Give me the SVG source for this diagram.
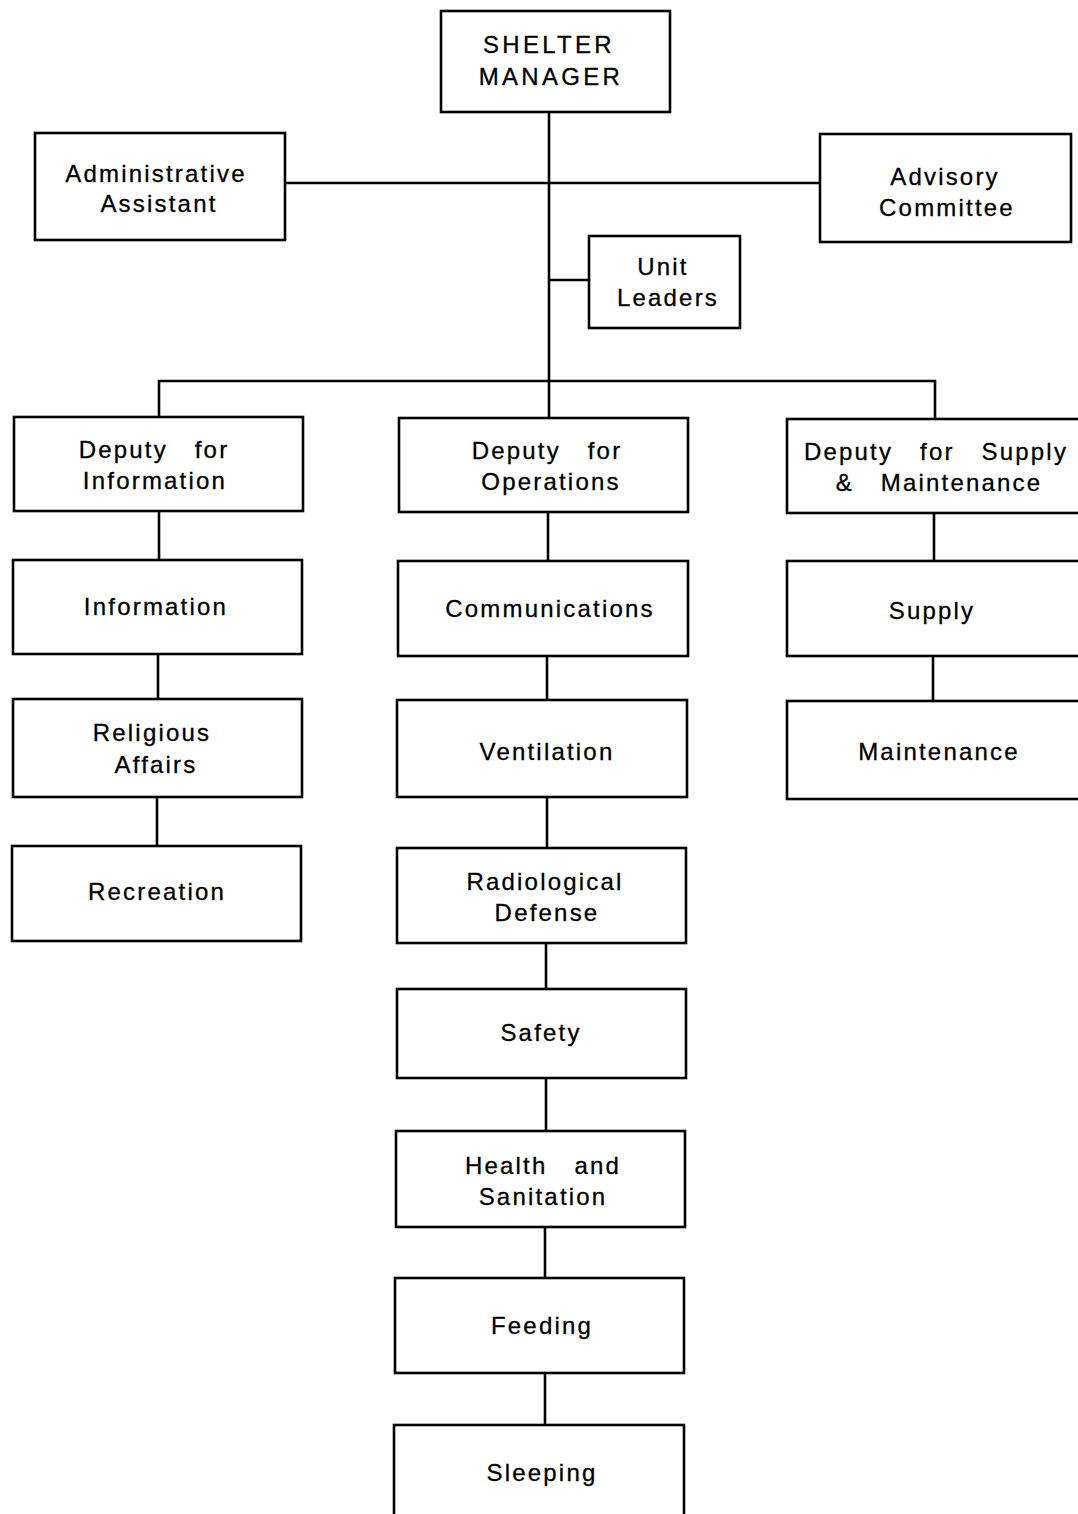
<svg xmlns="http://www.w3.org/2000/svg" width="1078" height="1514" viewBox="0 0 1078 1514">
<style>
.box{fill:#fff;stroke:#000;stroke-width:2.6}
.ln{fill:none;stroke:#000;stroke-width:2.6}
text{font-family:"Liberation Sans",Arial,sans-serif;font-size:24px;letter-spacing:2.2px;text-anchor:middle;fill:#000;stroke:#000;stroke-width:0.3}
.caps{letter-spacing:3.3px}
.ws{word-spacing:18px}
</style>
<rect width="1078" height="1514" fill="#fff"/>
<g id="connectors">
<path class="ln" d="M549 112V417"/>
<path class="ln" d="M285 183H820"/>
<path class="ln" d="M549 280H589"/>
<path class="ln" d="M159 417V381H935V419"/>
<path class="ln" d="M159 511V560M158 654V699M157 797V846"/>
<path class="ln" d="M548 512V561M547 656V700M547 797V848M546 943V989M546 1078V1131M545 1227V1278M545 1373V1425"/>
<path class="ln" d="M934 513V561M933 656V701"/>
</g>
<g id="shelter-manager"><rect class="box" x="441" y="11" width="229" height="101"/><text class="caps" x="549" y="53">SHELTER</text><text class="caps" x="551" y="85">MANAGER</text></g>
<g id="administrative-assistant"><rect class="box" x="35" y="133" width="250" height="107"/><text x="156" y="182">Administrative</text><text x="159" y="212">Assistant</text></g>
<g id="advisory-committee"><rect class="box" x="820" y="134" width="251" height="108"/><text x="945" y="185">Advisory</text><text x="947" y="216">Committee</text></g>
<g id="unit-leaders"><rect class="box" x="589" y="236" width="151" height="92"/><text x="663" y="275">Unit</text><text x="668" y="306">Leaders</text></g>
<g id="deputy-information"><rect class="box" x="14" y="417" width="289" height="94"/><text class="ws" x="154" y="458">Deputy for</text><text x="155" y="489">Information</text></g>
<g id="deputy-operations"><rect class="box" x="399" y="418" width="289" height="94"/><text class="ws" x="547" y="459">Deputy for</text><text x="551" y="490">Operations</text></g>
<g id="deputy-supply"><rect class="box" x="787" y="419" width="300" height="94"/><text class="ws" x="936" y="460">Deputy for Supply</text><text class="ws" x="939" y="491">&amp; Maintenance</text></g>
<g id="information"><rect class="box" x="13" y="560" width="289" height="94"/><text x="156" y="615">Information</text></g>
<g id="religious-affairs"><rect class="box" x="13" y="699" width="289" height="98"/><text x="152" y="741">Religious</text><text x="156" y="773">Affairs</text></g>
<g id="recreation"><rect class="box" x="12" y="846" width="289" height="95"/><text x="157" y="900">Recreation</text></g>
<g id="communications"><rect class="box" x="398" y="561" width="290" height="95"/><text x="550" y="617">Communications</text></g>
<g id="ventilation"><rect class="box" x="397" y="700" width="290" height="97"/><text x="547" y="760">Ventilation</text></g>
<g id="radiological-defense"><rect class="box" x="397" y="848" width="289" height="95"/><text x="545" y="890">Radiological</text><text x="547" y="921">Defense</text></g>
<g id="safety"><rect class="box" x="397" y="989" width="289" height="89"/><text x="541" y="1041">Safety</text></g>
<g id="health-sanitation"><rect class="box" x="396" y="1131" width="289" height="96"/><text class="ws" x="543" y="1174">Health and</text><text x="543" y="1205">Sanitation</text></g>
<g id="feeding"><rect class="box" x="395" y="1278" width="289" height="95"/><text x="542" y="1334">Feeding</text></g>
<g id="sleeping"><rect class="box" x="394" y="1425" width="290" height="100"/><text x="542" y="1481">Sleeping</text></g>
<g id="supply"><rect class="box" x="787" y="561" width="300" height="95"/><text x="932" y="619">Supply</text></g>
<g id="maintenance"><rect class="box" x="787" y="701" width="300" height="98"/><text x="939" y="760">Maintenance</text></g>
</svg>
